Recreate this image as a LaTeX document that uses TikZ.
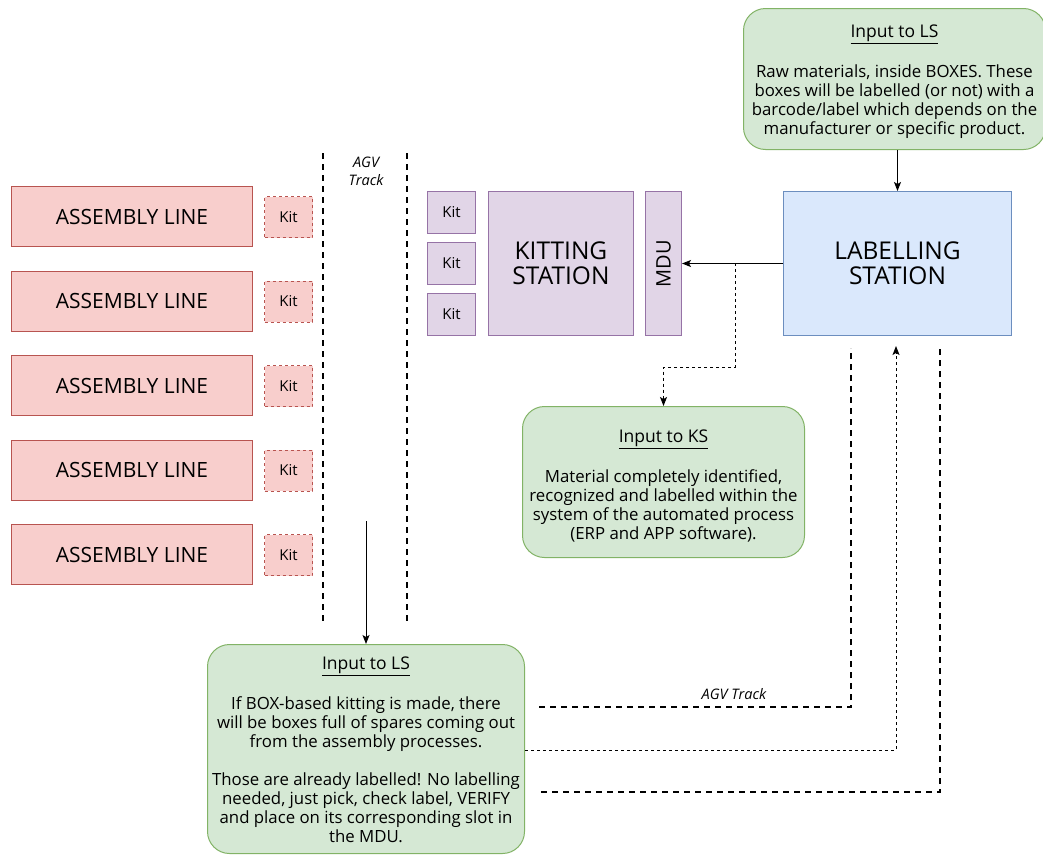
\documentclass[tikz,border=0pt]{standalone}
\usepackage{fontspec}
\setmainfont{Open Sans}
\usetikzlibrary{arrows.meta}

\definecolor{redfill}{HTML}{F8CECC}
\definecolor{redline}{HTML}{B85450}
\definecolor{purfill}{HTML}{E1D5E7}
\definecolor{purline}{HTML}{9673A6}
\definecolor{bluefill}{HTML}{DAE8FC}
\definecolor{blueline}{HTML}{6C8EBF}
\definecolor{grnfill}{HTML}{D5E8D4}
\definecolor{grnline}{HTML}{82B366}

% underlined heading of a note; the optional argument is the height of its strut
\newcommand{\notetitle}[2][13pt]{{\fontsize{17.5}{19}\selectfont\rule{0pt}{#1}\underline{#2}}}

\tikzset{
  box/.style={draw, line width=1pt, anchor=north west, inner sep=0pt, align=center},
  lineboxstyle/.style={box, fill=redfill, draw=redline, font=\fontsize{21}{24}\selectfont},
  kitred/.style={box, fill=redfill, draw=redline, dash pattern=on 3pt off 3pt, font=\fontsize{15}{17}\selectfont},
  kitpur/.style={box, fill=purfill, draw=purline, font=\fontsize{15}{17}\selectfont},
  purbox/.style={box, fill=purfill, draw=purline, font=\fontsize{24.5}{25}\selectfont},
  bluebox/.style={box, fill=bluefill, draw=blueline, font=\fontsize{24.5}{25}\selectfont},
  note/.style={box, fill=grnfill, draw=grnline, rounded corners=22pt, font=\fontsize{16.8}{19}\selectfont},
  arr/.style={line width=1pt, -{Stealth[length=9pt,width=7pt,inset=2pt]}},
  track/.style={line width=2pt, dash pattern=on 6pt off 5pt},
  dots/.style={line width=1pt, dash pattern=on 3pt off 3pt},
  tracklabel/.style={font=\fontsize{14.5}{18}\itshape\selectfont, align=center, inner sep=0pt}
}

\begin{document}
\begin{tikzpicture}[x=1pt, y=-1pt]
\useasboundingbox (0,0) rectangle (1043,854);

% assembly lines with their kit buffers
\foreach \i/\y in {1/186, 2/270.5, 3/355, 4/439.5, 5/524} {
  \node[lineboxstyle, minimum width=241pt, minimum height=60pt] (al\i) at (11,\y) {ASSEMBLY LINE};
  \node[kitred, minimum width=48pt, minimum height=41pt] (kr\i) at (264,\y+10) {Kit};
}

% AGV track between assembly lines and kitting area
\coordinate (t1a) at (323,153);
\coordinate (t1b) at (323,622);
\coordinate (t2a) at (407,153);
\coordinate (t2b) at (407,622);
\draw[track] (t1a) -- (t1b);
\draw[track] (t2a) -- (t2b);
\node[tracklabel] (agv1) at (366,171) {AGV\\Track};

% kitting station
\node[kitpur, minimum width=48pt, minimum height=42pt] (kp1) at (427,191) {Kit};
\node[kitpur, minimum width=48pt, minimum height=42pt] (kp2) at (427,242) {Kit};
\node[kitpur, minimum width=48pt, minimum height=42pt] (kp3) at (427,293) {Kit};
\node[purbox, minimum width=145pt, minimum height=144pt] (ks) at (488,191) {KITTING\\STATION};
\node[purbox, minimum width=36pt, minimum height=144pt] (mdu) at (645,191) {};
\node[rotate=90, font=\fontsize{20}{24}\selectfont, inner sep=0pt] (mdut) at (mdu.center) {MDU};

% labelling station
\node[bluebox, minimum width=228pt, minimum height=144pt] (ls) at (783,191) {LABELLING\\STATION};

% notes
\node[note, minimum width=302pt, minimum height=141pt] (inls) at (743,8)
  {\notetitle[19pt]{Input to LS}\\[21pt]
   Raw materials, inside BOXES. These\\
   boxes will be labelled (or not) with a\\
   barcode/label which depends on the\\
   manufacturer or specific product.};

\node[note, minimum width=282pt, minimum height=151pt] (inks) at (522,406)
  {\notetitle[21pt]{Input to KS}\\[20pt]
   Material completely identified,\\
   recognized and labelled within the\\
   system of the automated process\\
   (ERP and APP software).};

\node[note, minimum width=317pt, minimum height=209pt] (inls2) at (207,644)
  {\notetitle[15pt]{Input to LS}\\[20pt]
   If BOX-based kitting is made, there\\
   will be boxes full of spares coming out\\
   from the assembly processes.\\[19pt]
   Those are already labelled! No labelling\\
   needed, just pick, check label, VERIFY\\
   and place on its corresponding slot in\\
   the MDU.};

% flows
\draw[arr] (ls.north |- inls.south) -- (ls.north);
\draw[arr] (ls.west) -- (mdu.east);
\coordinate (split) at (735,263);
\draw[dots, -{Stealth[length=9pt,width=7pt,inset=2pt]}] (split) -- (735,367) -| (inks.north);
\coordinate (fromlines) at (366,521);
\draw[arr] (fromlines) -- (inls2.north);

% return tracks from the assembly side to the labelling station
\coordinate (r1s) at (539,707);
\coordinate (r1e) at (851,348);
\draw[track] (r1s) -| (r1e);
\node[tracklabel] (agv2) at (734,694) {AGV Track};
\coordinate (r2e) at (896,346);
\draw[dots, -{Stealth[length=9pt,width=7pt,inset=2pt]}] (inls2.east |- 0,750) -| (r2e);
\coordinate (r3s) at (541,792);
\coordinate (r3e) at (940,348);
\draw[track] (r3s) -| (r3e);
\end{tikzpicture}
\end{document}
